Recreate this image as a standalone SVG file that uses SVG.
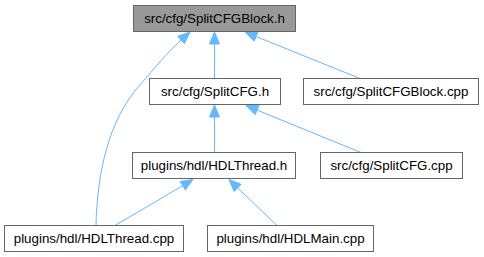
<svg xmlns="http://www.w3.org/2000/svg" width="484" height="257" viewBox="0 0 484 257">
  <style>
    .box { fill: #ffffff; stroke: #666666; stroke-width: 1; }
    .box.root { fill: #999999; }
    .label { font-family: "Liberation Sans", Arial, Helvetica, sans-serif; font-size: 13.33px; fill: #000000; text-anchor: middle; }
    .edge { fill: none; stroke: #63b8ff; stroke-width: 1; }
    .head { fill: #63b8ff; stroke: #63b8ff; stroke-width: 1; }
  </style>
  <rect width="484" height="257" fill="#ffffff"/>

  <!-- include relations: arrowheads point at the included file -->
  <g id="edges">
    <!-- HDLThread.cpp -> SplitCFGBlock.h -->
    <path class="edge" d="M96,226 C97,175 108,120 140,85 C155,67.5 168,52 181.1,40"/>
    <polygon class="head" points="190,32 184.4,43.7 177.7,36.3"/>
    <!-- SplitCFG.h -> SplitCFGBlock.h -->
    <path class="edge" d="M214.5,78.5 L214.5,44"/>
    <polygon class="head" points="214.5,32 219.5,44 209.5,44"/>
    <!-- SplitCFGBlock.cpp -> SplitCFGBlock.h -->
    <path class="edge" d="M360,78.5 L256.1,36.5"/>
    <polygon class="head" points="245,32 258,31.9 254.2,41.1"/>
    <!-- HDLThread.h -> SplitCFG.h -->
    <path class="edge" d="M214.5,152.5 L214.5,117"/>
    <polygon class="head" points="214.5,105 219.5,117 209.5,117"/>
    <!-- SplitCFG.cpp -> SplitCFG.h -->
    <path class="edge" d="M361,152.5 L257.1,110.1"/>
    <polygon class="head" points="246,105.5 259,105.5 255.2,114.7"/>
    <!-- HDLThread.cpp -> HDLThread.h -->
    <path class="edge" d="M115,225.5 L182.7,185.7"/>
    <polygon class="head" points="193,179.5 185.3,190 180.1,181.4"/>
    <!-- HDLMain.cpp -> HDLThread.h -->
    <path class="edge" d="M277,225.5 L237.6,187.9"/>
    <polygon class="head" points="229,179.5 241.1,184.3 234.1,191.5"/>
  </g>

  <g id="node-SplitCFGBlock-h">
    <rect class="box root" x="133.5" y="5.5" width="162" height="26"/>
    <text class="label" x="214.5" y="23">src/cfg/SplitCFGBlock.h</text>
  </g>
  <g id="node-SplitCFG-h">
    <rect class="box" x="149.5" y="78.5" width="131" height="26"/>
    <text class="label" x="215" y="96">src/cfg/SplitCFG.h</text>
  </g>
  <g id="node-SplitCFGBlock-cpp">
    <rect class="box" x="303.5" y="78.5" width="175" height="26"/>
    <text class="label" x="391" y="96">src/cfg/SplitCFGBlock.cpp</text>
  </g>
  <g id="node-HDLThread-h">
    <rect class="box" x="132.5" y="152.5" width="163" height="26"/>
    <text class="label" x="214" y="170">plugins/hdl/HDLThread.h</text>
  </g>
  <g id="node-SplitCFG-cpp">
    <rect class="box" x="320.5" y="152.5" width="142" height="26"/>
    <text class="label" x="391.5" y="170">src/cfg/SplitCFG.cpp</text>
  </g>
  <g id="node-HDLThread-cpp">
    <rect class="box" x="4.5" y="225.5" width="179" height="26"/>
    <text class="label" x="94" y="243">plugins/hdl/HDLThread.cpp</text>
  </g>
  <g id="node-HDLMain-cpp">
    <rect class="box" x="207.5" y="225.5" width="166" height="26"/>
    <text class="label" x="290.5" y="243">plugins/hdl/HDLMain.cpp</text>
  </g>
</svg>
